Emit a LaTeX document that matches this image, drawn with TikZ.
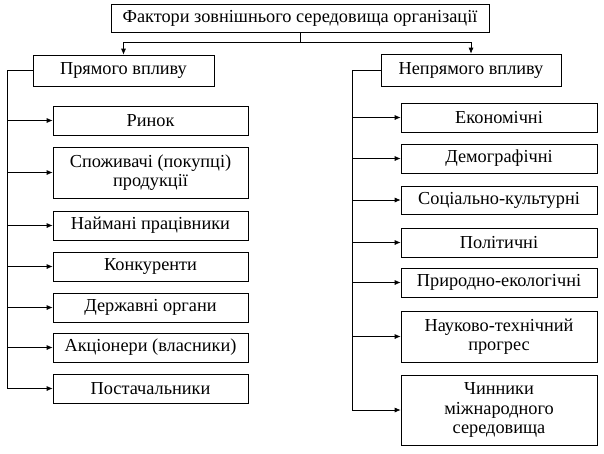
\documentclass[tikz,border=0pt]{standalone}
\usepackage{fontspec}
\setmainfont{Liberation Serif}
\usetikzlibrary{arrows.meta}

\tikzset{
  factor/.style={draw, line width=0.7pt, align=center, inner sep=0pt,
    font=\fontsize{18.3}{19.5}\selectfont},
  leftbox/.style={factor, minimum width=195pt},
  rightbox/.style={factor, minimum width=196pt},
  link/.style={line width=0.7pt},
  arr/.style={link, -{Latex[length=6pt,width=5pt]}}
}

\begin{document}
\begin{tikzpicture}[x=1pt, y=-1pt]
    \useasboundingbox (0,0) rectangle (604,453);
    % main box and the two groups
    \node[factor, minimum width=378pt, minimum height=28pt] (env) at (300,18)
      {Фактори зовнішнього середовища організації};
    \node[factor, minimum width=181pt, minimum height=31pt] (direct) at (123.5,70.5)
      {Прямого впливу};
    \node[factor, minimum width=180pt, minimum height=32pt] (indirect) at (471,70)
      {Непрямого впливу};
    \draw[arr] (env.south) -- ++(0,10) -| (direct.north);
    \draw[arr] (env.south) -- ++(0,10) -| (indirect.north);
    % direct factors
    \foreach \n/\y/\h/\t in {market/120.5/29/{Ринок},
        buyers/172.5/51/{Споживачі (покупці)\\продукції},
        staff/225.5/29/{Наймані працівники},
        rivals/266.5/29/{Конкуренти},
        govt/307.5/29/{Державні органи},
        owners/347.5/29/{Акціонери (власники)},
        suppl/388.5/29/{Постачальники}}
      \node[leftbox, minimum height=\h pt] (\n) at (150.5,\y) {\t};
    % indirect factors
    \foreach \n/\y/\h/\t in {econ/117.5/29/{Економічні},
        demo/158.5/29/{Демографічні},
        soc/200/28/{Соціально-культурні},
        pol/242.5/29/{Політичні},
        nat/282.5/29/{Природно-екологічні},
        tech/336.5/51/{Науково-технічний\\прогрес},
        intl/410/70/{Чинники\\міжнародного\\середовища}}
      \node[rightbox, minimum height=\h pt] (\n) at (499,\y) {\t};
    \coordinate (ltop) at (7,70.5);
    \coordinate (lbot) at (7,388.5);
    \coordinate (rtop) at (352,70);
    \coordinate (rbot) at (352,410);
    \draw[link] (direct.west) -- (ltop) -- (lbot);
    \draw[link] (indirect.west) -- (rtop) -- (rbot);
    \foreach \n in {market,buyers,staff,rivals,govt,owners,suppl}
      \draw[arr] (ltop |- \n.west) -- (\n.west);
    \foreach \n in {econ,demo,soc,pol,nat,tech,intl}
      \draw[arr] (rtop |- \n.west) -- (\n.west);
\end{tikzpicture}
\end{document}
